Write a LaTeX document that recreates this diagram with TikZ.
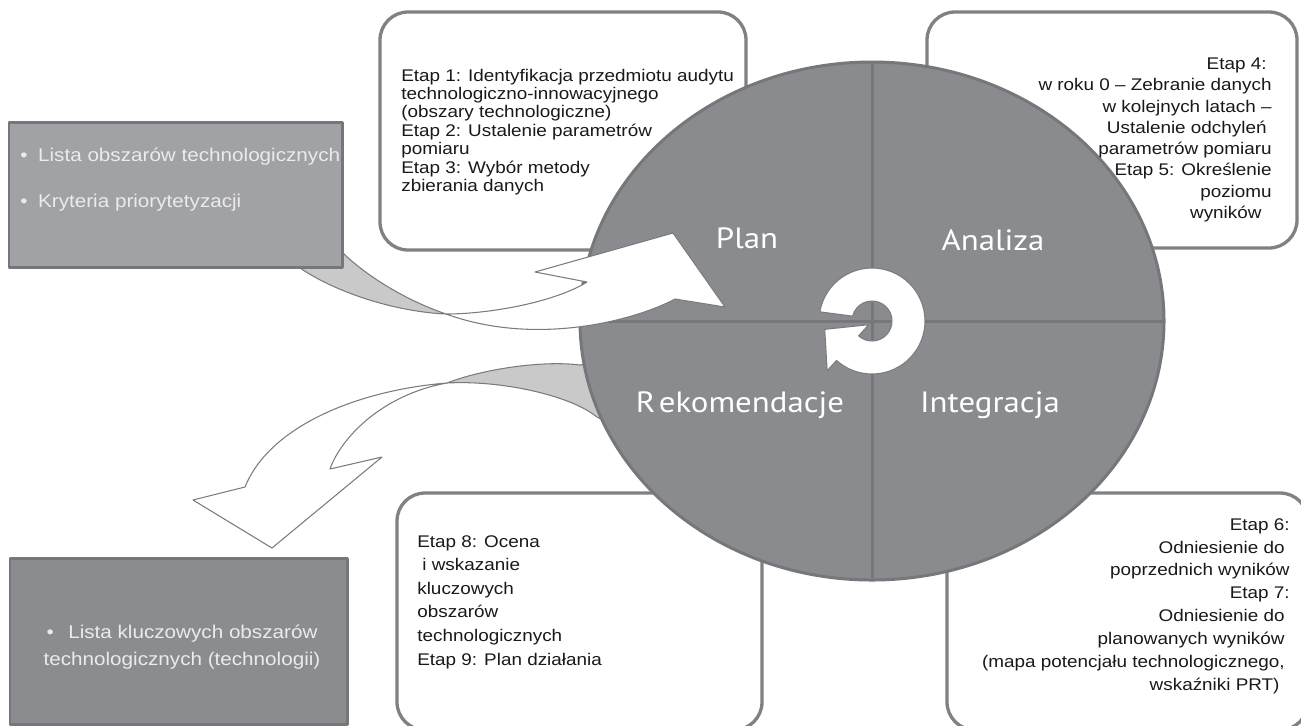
\documentclass[tikz,border=0pt]{standalone}
\usepackage{fontspec}
\setmainfont{Liberation Sans}[FakeStretch=1.12]
\newfontfamily\quadfont{PT Sans}[FakeStretch=1.12]
\usetikzlibrary{fit}
\definecolor{boxline}{HTML}{808184}
\definecolor{wheelgray}{HTML}{898B8E}
\definecolor{wheelline}{HTML}{76777A}
\definecolor{listlight}{HTML}{A1A2A5}
\definecolor{listdark}{HTML}{8A8C8F}
\definecolor{ribbonline}{HTML}{7A7B7E}
\definecolor{twistgray}{HTML}{C9C9C9}
\definecolor{listtext}{HTML}{EBEBEB}
\newcommand{\trail}{\hspace*{0.3em}}
\begin{document}
\begin{tikzpicture}[x=0.02cm,y=-0.02cm,line join=round,
  stepbox/.style={draw=boxline,line width=0.066cm,fill=white,rounded corners=0.56cm,inner sep=0pt},
  listbox/.style={draw=wheelline,line width=0.06cm,inner sep=0pt},
  etap/.style={inner sep=0pt,text=black!90},
  listitem/.style={inner sep=0pt,text=listtext,font=\fontsize{10.5}{15.3}\selectfont},
  quad/.style={inner sep=0pt,text=white,font=\quadfont\fontsize{16.7}{20}\selectfont},
  ribbon/.style={draw=ribbonline,line width=0.6pt,fill=white},
  twist/.style={draw=ribbonline,line width=0.6pt,fill=twistgray},
  divider/.style={draw=wheelline,line width=0.06cm}]
  \useasboundingbox (0,0) rectangle (1301,725);
  \node[stepbox,fit={(380,12) (746,250)}] (planbox) {};
  \node[stepbox,fit={(927,12) (1297,248)}] (analizabox) {};
  \node[stepbox,fit={(947,493) (1308,730)}] (integracjabox) {};
  \node[stepbox,fit={(397,493) (762,730)}] (rekobox) {};
  \coordinate (bt) at (447,383);
  \draw[twist] (612,360) -- (580,365) .. controls (540,360) and (480,370) .. (bt)
    .. controls (500,380) and (570,395) .. (597,417) -- (618,428) -- cycle;
  \draw[ribbon] (bt) .. controls (360,390) and (270,425) .. (245,487) -- (193,500)
    -- (272,548) -- (382,457) -- (330,469) .. controls (340,440) and (380,395) .. (bt) -- cycle;
  \coordinate (hub) at (872,321);
  \draw[fill=wheelgray,draw=wheelline,line width=0.06cm] (hub) ellipse [x radius=292,y radius=259];
  \draw[divider] (872,62) -- (872,580);
  \draw[divider] (580,321) -- (1164,321);
  \coordinate (tt) at (446,314);
  \draw[twist] (292,262) -- (300,268) .. controls (340,295) and (400,312) .. (tt)
    .. controls (405,300) and (365,275) .. (342,252) -- (336,246) -- cycle;
  \draw[ribbon] (tt) .. controls (490,314) and (555,302) .. (587,282) -- (535,272) -- (673,233)
    -- (725,307) -- (675,299) .. controls (640,318) and (540,348) .. (tt) -- cycle;
  \node[listbox,fill=listlight,fit={(9,122) (342,267)}] (areas) {};
  \node[listbox,fill=listdark,fit={(10,558) (347,724)}] (keyareas) {};
  \begin{scope}[shift={(hub)},yscale=-1]
    \draw[ribbon] (170:53) arc[start angle=170,end angle=-132,radius=53] -- (-132:67) -- (190:48)
      -- (-132:5) -- (-132:20) arc[start angle=-132,end angle=166,radius=20] -- cycle;
  \end{scope}
  \node[quad] (plan) at (747,238) {Plan};
  \node[quad] (analiza) at (993,240) {Analiza};
  \node[quad] (rekomendacje) at (740,405) {R\kern2pt ekomendacje};
  \node[quad] (integracja) at (990,405) {Integracja};
  \node[listitem,anchor=west] (area1) at (20,157) {\textbullet\hspace{6pt}Lista obszarów technologicznych};
  \node[listitem,anchor=west] (area2) at (20,203) {\textbullet\hspace{6pt}Kryteria priorytetyzacji};
  \node[listitem,align=center] (keylist) at (182,647) {\textbullet\hspace{5pt} Lista kluczowych obszarów\\technologicznych (technologii)};
  \node[etap,anchor=west,align=left,font=\fontsize{9.6}{10.5}\selectfont] (plantext) at (401,132)
    {Etap 1: Identyfikacja przedmiotu audytu\\technologiczno-innowacyjnego\\(obszary technologiczne)\\Etap 2: Ustalenie parametrów\\pomiaru\\Etap 3: Wybór metody\\zbierania danych};
  \node[etap,anchor=east,align=right,font=\fontsize{9.6}{12.1}\selectfont] (analizatext) at (1272,140)
    {Etap 4:\trail\\w roku 0 – Zebranie danych\\w kolejnych latach –\trail\\Ustalenie odchyleń\trail\trail\\parametrów pomiaru\\Etap 5: Określenie\trail\\poziomu\trail\\wyników\trail\trail};
  \node[etap,anchor=east,align=right,font=\fontsize{9.6}{13}\selectfont] (integracjatext) at (1290,606)
    {Etap 6:\\Odniesienie do\trail\trail\\poprzednich wyników\\Etap 7:\\Odniesienie do\trail\trail\\planowanych wyników\trail\trail\\(mapa potencjału technologicznego,\trail\trail\\wskaźniki PRT)\trail\trail};
  \node[etap,anchor=west,align=left,font=\fontsize{9.6}{13.4}\selectfont] (rekotext) at (417,602)
    {Etap 8: Ocena\\\hspace*{0.3em}i wskazanie\\kluczowych\\obszarów\\technologicznych\\Etap 9: Plan działania};
\end{tikzpicture}
\end{document}
